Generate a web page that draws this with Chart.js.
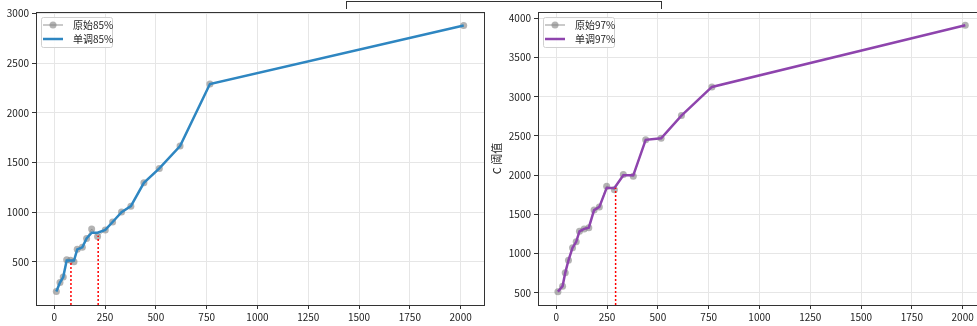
<!DOCTYPE html>
<html>
<head>
<meta charset="utf-8">
<script src="https://cdn.jsdelivr.net/npm/chart.js@4/dist/chart.umd.min.js"></script>
<style>
  html, body { margin: 0; padding: 0; background: #fff; overflow: hidden; }
  body { width: 977px; height: 326px; position: relative; }
  canvas { position: absolute; top: 0; }
  #c85 { left: 0; }
  #c97 { left: 490px; }
  #bracket { position: absolute; left: 346px; top: 1px; width: 314px; height: 7px;
             border: 1px solid #333; border-bottom: none; }
</style>
</head>
<body>
<div id="bracket"></div>
<canvas id="c85" width="488" height="326"></canvas>
<canvas id="c97" width="500" height="326"></canvas>
<script>
// data
const xTicks = [0, 250, 500, 750, 1000, 1250, 1500, 1750, 2000];

const x85 = [10, 28, 44, 61, 80, 97, 113, 138, 159, 184, 213, 251, 287, 331, 377, 441, 517, 619, 766, 2015];
const raw85 = [200, 290, 345, 520, 515, 500, 625, 645, 735, 830, 755, 820, 900, 1000, 1060, 1295, 1440, 1665, 2290, 2880];
const mono85 = [200, 290, 345, 512, 512, 512, 625, 645, 735, 792, 792, 820, 900, 1000, 1060, 1295, 1440, 1665, 2290, 2880];
const cut85 = [82, 216];
const cutTop85 = [508, 762];
const yTicks85 = [500, 1000, 1500, 2000, 2500, 3000];

const x97 = [8, 31, 44, 60, 80, 98, 114, 137, 160, 186, 212, 248, 286, 330, 379, 440, 516, 616, 766, 2013];
const raw97 = [515, 585, 755, 915, 1075, 1150, 1285, 1315, 1330, 1555, 1595, 1860, 1815, 2010, 1985, 2450, 2470, 2760, 3125, 3910];
const mono97 = [515, 585, 755, 915, 1075, 1150, 1285, 1315, 1330, 1555, 1595, 1838, 1838, 1998, 1998, 2450, 2470, 2760, 3125, 3910];
const cut97 = [292];
const cutTop97 = [1838];
const yTicks97 = [500, 1000, 1500, 2000, 2500, 3000, 3500, 4000];

Chart.defaults.font.family = '"Noto Sans CJK SC", "DejaVu Sans", sans-serif';
Chart.defaults.font.size = 10;
Chart.defaults.color = '#222';

const pts = (xs, ys) => xs.map((x, i) => ({ x: x, y: ys[i] }));

// frame round the plot area
const boxPlugin = {
  id: 'box',
  afterDatasetsDraw(chart) {
    const { ctx, chartArea: a } = chart;
    ctx.save();
    ctx.strokeStyle = '#333';
    ctx.lineWidth = 1;
    ctx.strokeRect(a.left + 0.5, a.top + 0.5, a.right - a.left, a.bottom - a.top);
    ctx.restore();
  }
};

// legend drawn in the upper left corner, matplotlib style
function legendPlugin(labels, color) {
  return {
    id: 'mplLegend',
    afterDraw(chart) {
      const ctx = chart.ctx;
      const x0 = chart.chartArea.left + 5, y0 = chart.chartArea.top + 5;
      ctx.save();
      ctx.fillStyle = 'rgba(255,255,255,0.85)';
      ctx.strokeStyle = '#d0d0d0';
      ctx.lineWidth = 1;
      ctx.beginPath();
      ctx.roundRect(x0 + 0.5, y0 + 0.5, 71, 30, 2);
      ctx.fill();
      ctx.stroke();

      ctx.strokeStyle = 'rgba(128,128,128,0.7)';
      ctx.lineWidth = 1.2;
      ctx.beginPath();
      ctx.moveTo(x0 + 2, y0 + 8); ctx.lineTo(x0 + 22, y0 + 8);
      ctx.stroke();
      ctx.fillStyle = 'rgba(128,128,128,0.6)';
      ctx.beginPath();
      ctx.arc(x0 + 12, y0 + 8, 3.5, 0, Math.PI * 2);
      ctx.fill();

      ctx.strokeStyle = color;
      ctx.lineWidth = 2.5;
      ctx.beginPath();
      ctx.moveTo(x0 + 2, y0 + 22); ctx.lineTo(x0 + 22, y0 + 22);
      ctx.stroke();

      ctx.fillStyle = '#222';
      ctx.font = '10px "Noto Sans CJK SC", sans-serif';
      ctx.textBaseline = 'middle';
      ctx.fillText(labels[0], x0 + 32, y0 + 8);
      ctx.fillText(labels[1], x0 + 32, y0 + 22);
      ctx.restore();
    }
  };
}

function makeChart(id, xs, raw, mono, cuts, cutTops, yTicks, yMin, yMax, color, labels, yWidth, yTitle) {
  const datasets = [
    {
      data: pts(xs, raw),
      borderColor: 'rgba(128,128,128,0.6)',
      borderWidth: 1,
      pointRadius: 3.5,
      pointBackgroundColor: 'rgba(128,128,128,0.6)',
      pointBorderWidth: 0,
      order: 3
    },
    {
      data: pts(xs, mono),
      borderColor: color,
      borderWidth: 2.5,
      pointRadius: 0,
      order: 2
    }
  ];
  cuts.forEach((c, i) => {
    datasets.push({
      data: [{ x: c, y: yMin }, { x: c, y: cutTops[i] }],
      borderColor: '#ff0000',
      borderWidth: 1.5,
      borderDash: [2, 2],
      pointRadius: 0,
      order: 1
    });
  });

  return new Chart(document.getElementById(id), {
    type: 'line',
    data: { datasets: datasets },
    options: {
      responsive: false,
      animation: false,
      devicePixelRatio: 1,
      layout: { padding: { top: 12, right: 3, left: 0, bottom: 0 } },
      plugins: { legend: { display: false }, tooltip: { enabled: false } },
      scales: {
        x: {
          type: 'linear',
          min: -90,
          max: 2115,
          afterBuildTicks: s => { s.ticks = xTicks.map(v => ({ value: v })); },
          afterFit: s => { s.height = 21; },
          ticks: { padding: 2, maxRotation: 0, autoSkip: false, callback: v => String(v) },
          grid: { color: '#e6e6e6', tickColor: '#333', tickLength: 4 },
          border: { display: true, color: '#333' }
        },
        y: {
          type: 'linear',
          min: yMin,
          max: yMax,
          afterBuildTicks: s => { s.ticks = yTicks.map(v => ({ value: v })); },
          afterFit: s => { s.width = yWidth; },
          ticks: { padding: 3, callback: v => String(v) },
          grid: { color: '#e6e6e6', tickColor: '#333', tickLength: 4 },
          border: { display: true, color: '#333' },
          title: { display: !!yTitle, text: yTitle || '', font: { size: 11 }, padding: { top: 0, bottom: 2 } }
        }
      }
    },
    plugins: [boxPlugin, legendPlugin(labels, color)]
  });
}

makeChart('c85', x85, raw85, mono85, cut85, cutTop85, yTicks85, 64, 3016,
  '#2e86c1', ['原始85%', '单调85%'], 36, null);
makeChart('c97', x97, raw97, mono97, cut97, cutTop97, yTicks97, 345, 4080,
  '#8e44ad', ['原始97%', '单调97%'], 48, 'C 阈值');
</script>
</body>
</html>
